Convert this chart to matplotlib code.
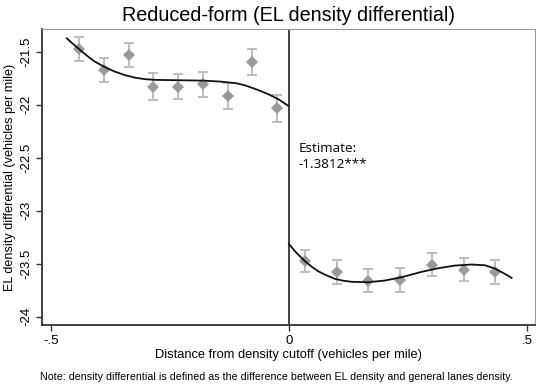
import matplotlib
matplotlib.use("Agg")
import matplotlib.pyplot as plt

plt.rcParams['font.family'] = ['Liberation Sans', 'DejaVu Sans']

# binned means (left / right of cutoff)
x_left = [-0.441, -0.389, -0.337, -0.285, -0.2325, -0.181, -0.129, -0.077, -0.0246]
y_left = [-21.477, -21.675, -21.534, -21.83, -21.83, -21.807, -21.92, -21.597, -22.033]
err_left = [0.115, 0.115, 0.113, 0.126, 0.118, 0.119, 0.121, 0.121, 0.128]

x_right = [0.0336, 0.1008, 0.1667, 0.234, 0.3004, 0.367, 0.434]
y_right = [-23.472, -23.577, -23.659, -23.656, -23.511, -23.558, -23.577]
err_right = [0.105, 0.111, 0.11, 0.111, 0.11, 0.108, 0.111]

# fitted curves
fit_x_left = [-0.467, -0.453, -0.439, -0.424, -0.408, -0.387, -0.366, -0.345, -0.324,
              -0.303, -0.282, -0.239, -0.180, -0.145, -0.110, -0.092, -0.075, -0.058,
              -0.040, -0.020, -0.0015]
fit_y_left = [-21.374, -21.430, -21.484, -21.540, -21.594, -21.645, -21.688, -21.721,
              -21.745, -21.759, -21.766, -21.769, -21.773, -21.782, -21.798, -21.818,
              -21.845, -21.874, -21.908, -21.955, -22.011]
fit_x_right = [0.0, 0.0126, 0.0336, 0.0476, 0.0616, 0.0791, 0.0966, 0.1142, 0.1317,
               0.1666, 0.2017, 0.2368, 0.2788, 0.3137, 0.3487, 0.3838, 0.4118, 0.4328,
               0.4538, 0.4679]
fit_y_right = [-23.314, -23.383, -23.477, -23.528, -23.572, -23.611, -23.643, -23.661,
               -23.671, -23.675, -23.659, -23.628, -23.577, -23.543, -23.518, -23.508,
               -23.515, -23.546, -23.596, -23.634]

xticks = [-0.5, 0, 0.5]
xtick_labels = ["-.5", "0", ".5"]
yticks = [-21.5, -22, -22.5, -23, -23.5, -24]
ytick_labels = ["-21.5", "-22", "-22.5", "-23", "-23.5", "-24"]

fig = plt.figure(figsize=(5.36, 3.85), dpi=100)
ax = fig.add_axes([0.0784, 0.156, 0.9196, 0.7687])

for xs, ys, es in [(x_left, y_left, err_left), (x_right, y_right, err_right)]:
    ax.errorbar(xs, ys, yerr=es, fmt='none', ecolor='#b8b8b8', elinewidth=1.3,
                capsize=3.5, capthick=1.3, zorder=2)
    ax.plot(xs, ys, 'D', color='#9a9a9a', markersize=6, markeredgewidth=0, zorder=3)

ax.plot(fit_x_left, fit_y_left, color='#111111', lw=1.3, zorder=4)
ax.plot(fit_x_right, fit_y_right, color='#111111', lw=1.3, zorder=4)
ax.axvline(0, color='#222222', lw=1.2, zorder=1)

ax.text(0.021, -22.596, "Estimate:\n-1.3812***", family=['Open Sans', 'DejaVu Sans'],
        fontsize=9.7, ha='left', va='baseline', linespacing=1.3)

ax.set_xlim(-0.519, 0.517)
ax.set_ylim(-24.078, -21.286)
ax.set_xticks(xticks)
ax.set_xticklabels(xtick_labels, fontsize=9.5)
ax.set_yticks(yticks)
ax.set_yticklabels(ytick_labels, fontsize=9.5, rotation=90, va='center')
ax.tick_params(direction='out', length=4, width=1, color='#333333', pad=3)

for s in ['left', 'bottom']:
    ax.spines[s].set_color('#333333')
    ax.spines[s].set_linewidth(1.3)
for s in ['top', 'right']:
    ax.spines[s].set_color('#9a9a9a')
    ax.spines[s].set_linewidth(0.8)

ax.set_title("Reduced-form (EL density differential)", fontsize=14.2, pad=6)
ax.set_xlabel("Distance from density cutoff (vehicles per mile)", fontsize=9.3, labelpad=2)
ax.set_ylabel("EL density differential (vehicles per mile)", fontsize=9.1, labelpad=3)
fig.text(0.516, 0.008, "Note: density differential is defined as the difference between EL density and general lanes density.",
         fontsize=7.7, ha='center', va='bottom')

fig.savefig("out.png", dpi=100)
